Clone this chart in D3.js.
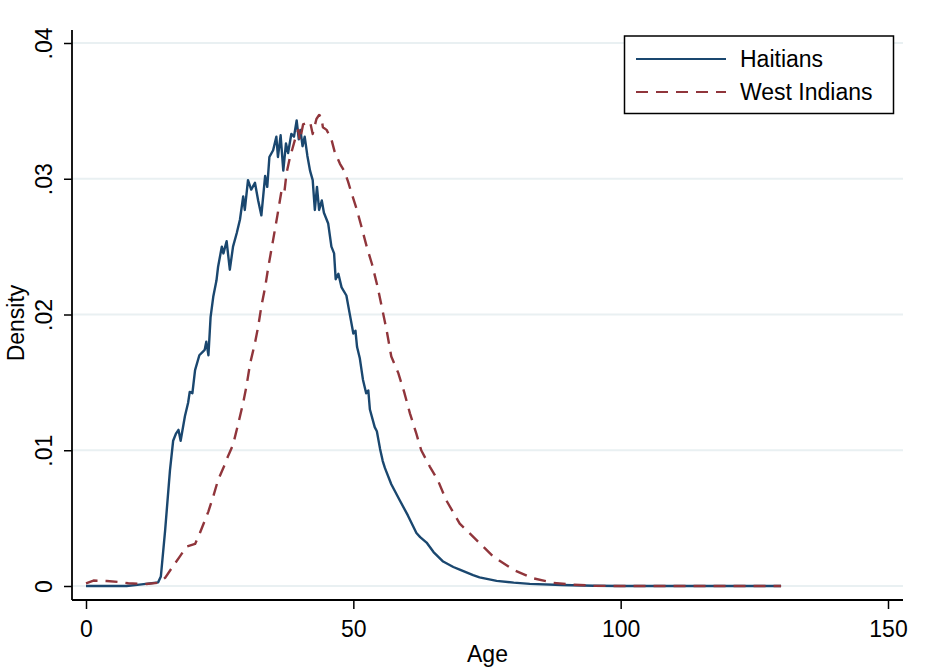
<!DOCTYPE html>
<html>
<head>
<meta charset="utf-8">
<script src="https://cdn.jsdelivr.net/npm/d3@7"></script>
<style>
  html, body { margin: 0; padding: 0; background: #ffffff; }
  svg { display: block; font-family: "Liberation Sans", Arial, sans-serif; }
</style>
</head>
<body>
<svg id="chart" width="926" height="668"></svg>
<script>
// ---- data ----
const seriesNames = ["Haitians", "West Indians"];
const xTicks = [0, 50, 100, 150];
const yTicks = [0, 0.01, 0.02, 0.03, 0.04];
const yTickLabels = ["0", ".01", ".02", ".03", ".04"];

const ageHaitians = [0, 7.6, 10, 13.5, 14.0, 14.8, 15.7, 16.3, 16.8, 17.3, 17.7, 18.5, 19.1, 19.4, 19.9, 20.4, 21.2, 22.2, 22.5, 22.9,
  23.3, 23.8, 24.4, 24.7, 25.4, 25.7, 26.3, 26.9, 27.5, 28.2, 28.8, 29.4, 29.7, 30.3, 30.9, 31.6, 32.2, 32.8, 33.5, 33.9,
  34.3, 35.0, 35.6, 35.9, 36.4, 36.9, 37.4, 37.8, 38.4, 38.9, 39.4, 39.8, 40.1, 40.5, 40.9, 41.4, 41.9, 42.4, 42.8, 43.2,
  43.6, 44.1, 44.5, 45.3, 45.9, 46.4, 46.7, 47.2, 47.8, 48.7, 49.3, 50.0, 50.4, 50.7, 51.2, 51.8, 52.4, 52.8, 53.1, 54.0,
  54.4, 55.0, 55.5, 55.9, 57.1, 58.7, 60.2, 61.8, 62.5, 63.7, 65.0, 66.8, 68.7, 69.9, 72.4, 73.6, 76.8, 80, 83, 89, 95, 100, 130];
const densHaitians = [0, 0, 0.0001, 0.00027, 0.0007, 0.0041, 0.0085, 0.0107, 0.0112, 0.0115, 0.0107, 0.0125, 0.0135, 0.0143, 0.0142, 0.0159, 0.0170, 0.0174, 0.0180, 0.0170,
  0.0198, 0.0213, 0.0225, 0.0235, 0.0250, 0.0245, 0.0254, 0.0233, 0.0250, 0.0260, 0.0270, 0.0287, 0.0277, 0.0299, 0.0292, 0.0297, 0.0284, 0.0273, 0.0302, 0.0294,
  0.0316, 0.0321, 0.0331, 0.0316, 0.0332, 0.0306, 0.0326, 0.0319, 0.0333, 0.0331, 0.0343, 0.0329, 0.0336, 0.0324, 0.0331, 0.0317, 0.0306, 0.0299, 0.0277, 0.0294,
  0.0277, 0.0284, 0.0275, 0.0267, 0.0250, 0.0245, 0.0226, 0.0230, 0.0220, 0.0214, 0.0201, 0.0186, 0.0188, 0.0176, 0.0168, 0.0152, 0.0142, 0.0144, 0.0130, 0.0117,
  0.0114, 0.0101, 0.0092, 0.0087, 0.0075, 0.0063, 0.0052, 0.0039, 0.0036, 0.0032, 0.0025, 0.0018, 0.0014, 0.0012, 0.0008, 0.00064, 0.00038, 0.00025, 0.00016, 0.00007, 0.00002, 0, 0];

const ageWestIndians = [0, 1.4, 3.9, 6, 7.9, 11.3, 13.5, 14.8, 16.0, 17.6, 18.8, 20.4, 21.3, 22.9, 23.8, 24.7, 25.8, 26.6, 27.5, 28.5,
  29.4, 30.0, 30.7, 31.6, 32.2, 32.8, 33.5, 34.1, 35.0, 35.8, 36.6, 37.1, 37.5, 38.1, 39.1, 39.7, 40.0, 40.6, 41.9, 42.4,
  43.1, 43.6, 44.0, 44.3, 45.0, 45.9, 46.5, 47.5, 48.4, 49.0, 49.7, 50.6, 51.5, 52.5, 53.5, 54.5, 55.3, 56.2, 57.1, 58.4,
  59.5, 60.6, 61.8, 62.7, 64.3, 65.8, 67.4, 69.9, 73.0, 76.1, 79.9, 83.6, 87.3, 91, 95, 100, 130];
const densWestIndians = [0.0002, 0.0004, 0.00037, 0.0003, 0.0002, 0.00015, 0.00024, 0.0006, 0.0013, 0.0022, 0.0029, 0.0031, 0.0039, 0.0055, 0.0066, 0.0078, 0.0088, 0.0096, 0.0104, 0.0120,
  0.0135, 0.0147, 0.0164, 0.0179, 0.0191, 0.0206, 0.0220, 0.0235, 0.0255, 0.0273, 0.0292, 0.0290, 0.0304, 0.0315, 0.0329, 0.0336, 0.0328, 0.0340, 0.0342, 0.0333,
  0.0344, 0.0347, 0.0346, 0.0338, 0.0336, 0.0329, 0.0320, 0.0311, 0.0305, 0.0298, 0.0289, 0.0278, 0.0265, 0.0250, 0.0237, 0.0221, 0.0206, 0.0189, 0.0169, 0.0157,
  0.0143, 0.0127, 0.0112, 0.0100, 0.0088, 0.0078, 0.0063, 0.0046, 0.0034, 0.0022, 0.0012, 0.00057, 0.00024, 0.0001, 0.00002, 0, 0];

// ---- layout ----
const svg = d3.select("#chart");
const frame = { left: 72, right: 903, top: 30, bottom: 600 };
const x = d3.scaleLinear().domain([0, 150]).range([86, 888]);
const y = d3.scaleLinear().domain([0, 0.04]).range([586, 43]);
const colors = ["#1a476f", "#90353b"];
const fontSize = 23;
const fontFamily = "Liberation Sans, Arial, sans-serif";

// gridlines
svg.append("g").selectAll("line").data(yTicks).join("line")
  .attr("x1", frame.left).attr("x2", frame.right)
  .attr("y1", d => y(d)).attr("y2", d => y(d))
  .attr("stroke", "#e9f0f2").attr("stroke-width", 2);

// series (Haitians first, West Indians drawn on top as in the reference)
const toPoints = (ages, dens) => ages.map((a, i) => [a, dens[i]]);
const line = d3.line().x(d => x(d[0])).y(d => y(d[1]));

svg.append("path").datum(toPoints(ageHaitians, densHaitians))
  .attr("d", line).attr("fill", "none")
  .attr("stroke", colors[0]).attr("stroke-width", 2.4).attr("stroke-linejoin", "round");

svg.append("path").datum(toPoints(ageWestIndians, densWestIndians))
  .attr("d", line).attr("fill", "none")
  .attr("stroke", colors[1]).attr("stroke-width", 2.4)
  .attr("stroke-dasharray", "12,8").attr("stroke-linejoin", "round");

// x axis
const xAxis = d3.axisBottom(x).tickValues(xTicks).tickSize(9).tickPadding(12).tickFormat(d3.format("d"));
const gx = svg.append("g").attr("transform", `translate(0,${frame.bottom})`).call(xAxis);
gx.select(".domain").remove();
gx.selectAll(".tick line").attr("stroke", "#000").attr("stroke-width", 1.5);
gx.selectAll(".tick text").attr("font-size", fontSize).attr("font-family", fontFamily).attr("fill", "#000");
svg.append("line").attr("x1", frame.left).attr("x2", frame.right)
  .attr("y1", frame.bottom).attr("y2", frame.bottom)
  .attr("stroke", "#000").attr("stroke-width", 1.8);

// y axis
const yAxis = d3.axisLeft(y).tickValues(yTicks).tickSize(8).tickFormat((d, i) => yTickLabels[i]);
const gy = svg.append("g").attr("transform", `translate(${frame.left},0)`).call(yAxis);
gy.select(".domain").remove();
gy.selectAll(".tick line").attr("stroke", "#000").attr("stroke-width", 1.5);
gy.selectAll(".tick text")
  .attr("font-size", fontSize).attr("font-family", fontFamily).attr("fill", "#000")
  .attr("x", null).attr("dy", null)
  .attr("text-anchor", "middle")
  .attr("transform", "translate(-20,0) rotate(-90)");
svg.append("line").attr("x1", frame.left).attr("x2", frame.left)
  .attr("y1", frame.top).attr("y2", frame.bottom)
  .attr("stroke", "#000").attr("stroke-width", 1.8);

// axis titles
svg.append("text").attr("x", (frame.left + frame.right) / 2).attr("y", 662)
  .attr("text-anchor", "middle").attr("font-size", fontSize).text("Age");
svg.append("text").attr("transform", `translate(24,${(frame.top + frame.bottom) / 2 + 8}) rotate(-90)`)
  .attr("text-anchor", "middle").attr("font-size", fontSize).text("Density");

// legend
const lg = svg.append("g");
lg.append("rect").attr("x", 624.5).attr("y", 36).attr("width", 269).attr("height", 77.5)
  .attr("fill", "#fff").attr("stroke", "#000").attr("stroke-width", 1.5);
const legRows = [59, 92];
seriesNames.forEach((name, i) => {
  lg.append("line").attr("x1", 636).attr("x2", 726).attr("y1", legRows[i]).attr("y2", legRows[i])
    .attr("stroke", colors[i]).attr("stroke-width", 2.2)
    .attr("stroke-dasharray", i === 1 ? "12,8" : null);
  lg.append("text").attr("x", 740).attr("y", legRows[i] + 8)
    .attr("font-size", fontSize).attr("fill", "#000").text(name);
});
</script>
</body>
</html>
